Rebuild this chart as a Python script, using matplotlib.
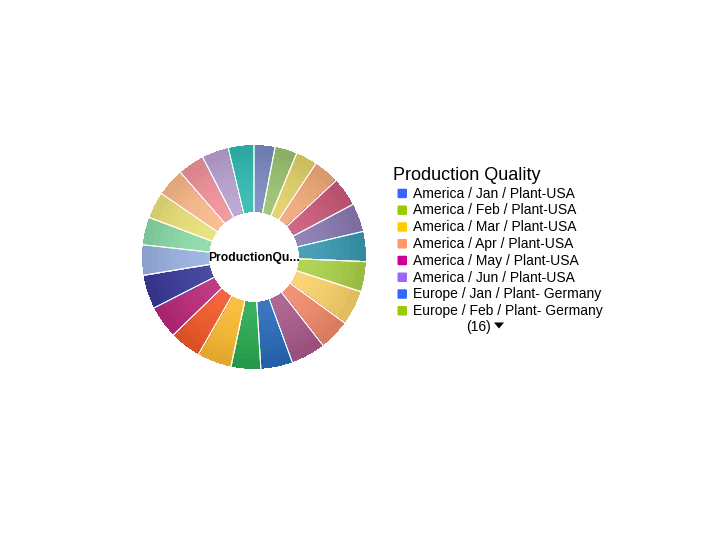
import matplotlib
matplotlib.use("Agg")
import matplotlib.pyplot as plt
import numpy as np
from matplotlib.colors import to_rgb
from matplotlib.patches import FancyBboxPatch, Polygon, Wedge

plt.rcParams['font.family'] = ['Liberation Sans', 'DejaVu Sans']

months = ["Jan", "Feb", "Mar", "Apr", "May", "Jun"]
regions = [("America", "Plant-USA"), ("Europe", "Plant- Germany"),
           ("Asia", "Plant-Japan"), ("Africa", "Plant-Egypt")]
categories = [f"{r} / {m} / {p}" for r, p in regions for m in months]

values = [10.9, 11.5, 11.1, 13.5, 15.0, 14.8, 15.6, 15.6, 18.0, 16.0, 18.0, 16.5,
          15.4, 17.8, 16.3, 17.0, 17.6, 15.7, 14.4, 13.7, 14.6, 13.8, 13.9, 13.3]

slice_colors = ["#7a88c0", "#98c070", "#e0d068", "#f0a878", "#c85878", "#8878b0",
                "#3898b0", "#a8d048", "#f8d068", "#f08868", "#a85888", "#2868b8",
                "#28a850", "#f8b830", "#f05828", "#b82878", "#383898", "#98b0e0",
                "#88d8a8", "#e8e078", "#f8b888", "#f09098", "#b8a0d0", "#30b8b0"]

legend_colors = ["#3366ff", "#99cc00", "#ffcc00", "#ff9966", "#cc0099", "#9966ff",
                 "#3366ff", "#99cc00"]

title = "Production Quality"
center_label = "ProductionQu..."
hidden_count_label = "(16)"

W, H = 720, 540
fig = plt.figure(figsize=(W / 100, H / 100), dpi=100)

def fx(x):
    return x / W

def fy(y):
    return 1 - y / H

# donut
cx, cy, R, r_in = 254, 257, 111, 47
ax = fig.add_axes([fx(cx - R), fy(cy + R), 2 * R / W, 2 * R / H])
ax.axis('off')

inner = r_in / R
n_rings = 10
edges = np.linspace(inner, 1.0, n_rings + 1)
base = np.array([to_rgb(c) for c in slice_colors])
for i in range(n_rings):
    t = (i + 0.5) / n_rings
    light = np.clip(base + (1 - base) * 0.10 * (1 - t), 0, 1)
    shade = light * (1 - 0.10 * t ** 2)
    cols = [tuple(c) for c in shade]
    ax.pie(values, radius=edges[i + 1], colors=cols,
           startangle=90, counterclock=False,
           wedgeprops=dict(width=edges[i + 1] - edges[i] + 0.01,
                           linewidth=0.6, antialiased=False))
    for w, c in zip(ax.patches[-len(values):], cols):
        w.set_edgecolor(c)

# white separators, clipped to the annulus so only radial lines remain
clip = Wedge((0, 0), 1.0, 0, 360, width=1 - inner, transform=ax.transData,
             facecolor='none', edgecolor='none')
sep, _ = ax.pie(values, radius=1.05, colors=['none'] * len(values), startangle=90,
                counterclock=False,
                wedgeprops=dict(width=1.05 - inner + 0.05, edgecolor='white',
                                linewidth=0.7, facecolor='none'))
for w in sep:
    w.set_clip_path(clip)
ax.set_aspect('equal')
ax.set_xlim(-1.0, 1.0)
ax.set_ylim(-1.0, 1.0)

fig.text(fx(cx), fy(260.7), center_label, ha='center', va='baseline',
         fontsize=8.7, fontweight='bold', color='black')

# legend
fig.text(fx(393), fy(180), title, ha='left', va='baseline', fontsize=13, color='black')
row0, dy = 197.7, 16.76
for i, (lab, col) in enumerate(zip(categories[:8], legend_colors)):
    yb = row0 + i * dy
    fig.text(fx(413), fy(yb), lab, ha='left', va='baseline', fontsize=10, color='black')
    box = FancyBboxPatch((fx(397.5), fy(yb + 0.5)), 9.5 / W, 9.5 / H,
                         boxstyle="round,pad=0,rounding_size=0.002",
                         transform=fig.transFigure, facecolor=col, edgecolor='none')
    fig.patches.append(box)

fig.text(fx(466), fy(331), hidden_count_label, ha='left', va='baseline', fontsize=10,
         color='black')
tri = Polygon([(fx(494), fy(322.5)), (fx(504), fy(322.5)), (fx(499), fy(328.5))],
              closed=True, transform=fig.transFigure, facecolor='black', edgecolor='none')
fig.patches.append(tri)

fig.savefig("out.png", dpi=100, facecolor='white')
